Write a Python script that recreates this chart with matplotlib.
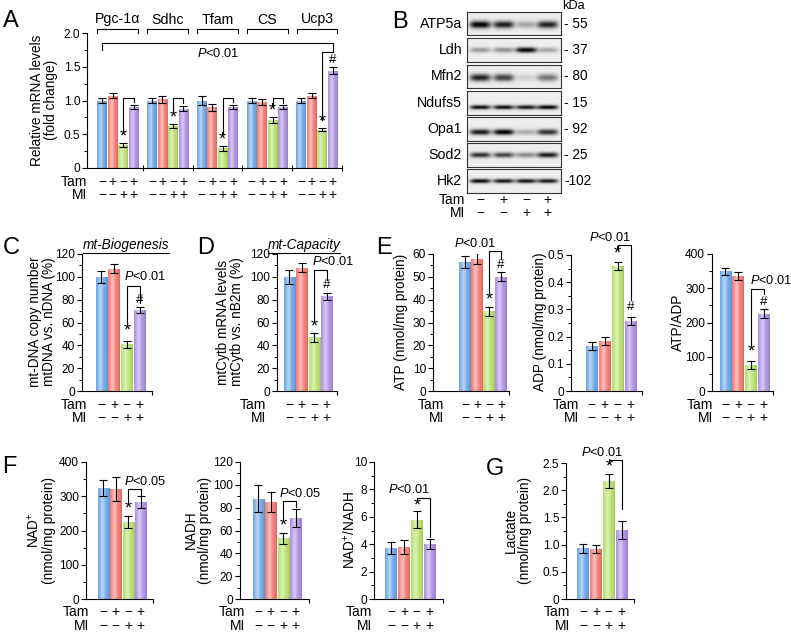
import numpy as np
import matplotlib
matplotlib.use("Agg")
import matplotlib.pyplot as plt
from matplotlib.colors import to_rgb
from matplotlib.ticker import AutoMinorLocator, FixedLocator
from matplotlib.transforms import blended_transform_factory
from matplotlib.lines import Line2D

plt.rcParams["font.family"] = ["Liberation Sans", "DejaVu Sans"]
plt.rcParams["mathtext.fontset"] = "custom"
plt.rcParams["mathtext.rm"] = "Liberation Sans"
plt.rcParams["mathtext.it"] = "Liberation Sans:italic"

# ---- data ----
bar_colors = ["#6aa6e6", "#f27a72", "#b6df6a", "#ad8fe3"]
tam_signs = ["−", "+", "−", "+"]
mi_signs = ["−", "−", "+", "+"]

genes = ["Pgc-1α", "Sdhc", "Tfam", "CS", "Ucp3"]
mrna_mean = [[1.00, 1.07, 0.34, 0.91],
             [1.00, 1.02, 0.62, 0.88],
             [1.00, 0.90, 0.29, 0.91],
             [1.00, 0.98, 0.71, 0.90],
             [1.00, 1.07, 0.57, 1.44]]
mrna_err = [[0.04, 0.04, 0.03, 0.03],
            [0.04, 0.05, 0.03, 0.04],
            [0.06, 0.05, 0.04, 0.03],
            [0.03, 0.04, 0.04, 0.03],
            [0.03, 0.04, 0.02, 0.05]]

proteins = ["ATP5a", "Ldh", "Mfn2", "Ndufs5", "Opa1", "Sod2", "Hk2"]
kda = ["55", "37", "80", "15", "92", "25", "102"]
band_level = [[1.00, 0.88, 0.30, 0.85],
              [0.35, 0.38, 1.00, 0.30],
              [0.85, 0.72, 0.12, 0.50],
              [0.95, 0.95, 0.90, 1.00],
              [0.90, 1.00, 0.28, 0.80],
              [0.80, 0.72, 0.42, 0.90],
              [0.95, 0.90, 0.90, 0.88]]

mtdna = [100, 107, 41, 71]
mtdna_err = [5, 4, 3, 3]
mtcytb = [100, 108, 47, 83]
mtcytb_err = [6, 4, 4, 3]
atp = [56.5, 58, 35, 50]
atp_err = [2.8, 2.3, 2.0, 2.0]
adp = [0.165, 0.185, 0.46, 0.258]
adp_err = [0.015, 0.015, 0.015, 0.015]
atp_adp = [350, 335, 75, 226]
atp_adp_err = [10, 12, 12, 12]
nad = [325, 322, 225, 283]
nad_err = [23, 35, 17, 17]
nadh = [88, 85, 53, 71]
nadh_err = [12, 9, 5, 8]
nad_ratio = [3.7, 3.8, 5.8, 4.0]
nad_ratio_err = [0.45, 0.5, 0.6, 0.35]
lactate = [0.93, 0.92, 2.17, 1.27]
lactate_err = [0.09, 0.08, 0.13, 0.17]

W, H = 791, 632
fig = plt.figure(figsize=(W / 100, H / 100), dpi=100)

TICK_FS = 8.6
LAB_FS = 9.8
ROW_FS = 10


def rect(x0, y0, x1, y1):
    return [x0 / W, 1 - y1 / H, (x1 - x0) / W, (y1 - y0) / H]


def fy(y):
    return 1 - y / H


def shade(base):
    t = np.linspace(0, 1, 40)
    w = 0.5 * np.exp(-((t - 0.38) / 0.22) ** 2)
    rgb = np.array(to_rgb(base))
    row = rgb[None, :] * (1 - w[:, None]) + w[:, None]
    row = row * (1 - 0.12 * np.exp(-((t - 1) / 0.1) ** 2))[:, None]
    return np.clip(row[None, :, :], 0, 1)


def draw_bars(ax, xs, vals, errs, width=0.92):
    for x, v, c in zip(xs, vals, bar_colors):
        b = ax.bar(x, v, width=width, color=c, edgecolor="none", zorder=1)[0]
        im = ax.imshow(shade(c), extent=(x - width / 2, x + width / 2, 0, v),
                       aspect="auto", interpolation="bilinear", zorder=2)
        im.set_clip_path(b)
    ax.errorbar(xs, vals, yerr=errs, fmt="none", ecolor="black",
                elinewidth=0.8, capsize=2.6, capthick=0.8, zorder=3)


def style(ax, ylim, yticks, ylabels, xlim, xticks):
    ax.set_xlim(xlim)
    ax.set_ylim(ylim)
    for s in ["top", "right"]:
        ax.spines[s].set_visible(False)
    for s in ["left", "bottom"]:
        ax.spines[s].set_linewidth(0.8)
    ax.set_yticks(yticks)
    ax.set_yticklabels(ylabels)
    ax.yaxis.set_minor_locator(AutoMinorLocator(2))
    ax.tick_params(axis="y", which="major", length=3.5, width=0.8, labelsize=TICK_FS, pad=1.5)
    ax.tick_params(axis="y", which="minor", length=2, width=0.7)
    ax.xaxis.set_major_locator(FixedLocator(xticks))
    ax.tick_params(axis="x", length=3, width=0.8, labelbottom=False, direction="out")


def bracket(ax, x1, y1, x2, y2, top):
    ax.add_line(Line2D([x1, x1, x2, x2], [y1, top, top, y2], color="black",
                       lw=0.8, clip_on=False))


def mark(ax, x, y, s, size=13):
    ax.text(x, y, s, ha="center", va="center", fontsize=size, clip_on=False)


def ptext(ax, x, y, s, ha="center"):
    ax.text(x, y, "$P$<" + s, ha=ha, va="center", fontsize=9.2, clip_on=False)


def sign_rows(ax, xs, y_tam, y_mi, label_x, tams=tam_signs, mis=mi_signs):
    tr = blended_transform_factory(ax.transData, fig.transFigure)
    for x, a, b in zip(xs, tams, mis):
        ax.text(x, fy(y_tam), a, transform=tr, ha="center", va="center", fontsize=ROW_FS)
        ax.text(x, fy(y_mi), b, transform=tr, ha="center", va="center", fontsize=ROW_FS)
    fig.text(label_x / W, fy(y_tam), "Tam", ha="right", va="center", fontsize=ROW_FS)
    fig.text(label_x / W, fy(y_mi), "MI", ha="right", va="center", fontsize=ROW_FS)


def ylab(x, y, s):
    fig.text(x / W, fy(y), s, rotation=90, ha="center", va="center",
             fontsize=LAB_FS, linespacing=1.0)


def letter(x, y, s):
    fig.text(x / W, fy(y), s, ha="center", va="center", fontsize=17)


# ---- panel A ----
axA = fig.add_axes(rect(87, 33, 342, 168))
pitch = 4.74
xA = []
for g in range(5):
    xs = [g * pitch + i for i in range(4)]
    xA.append(xs)
    draw_bars(axA, xs, mrna_mean[g], mrna_err[g])
bounds = [g * pitch + 3.87 for g in range(4)] + [22.84]
style(axA, (0, 2.0), [0, 0.5, 1.0, 1.5, 2.0], ["0", "0.5", "1.0", "1.5", "2.0"],
      (-1.45, 22.84), bounds)
axA.tick_params(axis="x", direction="inout", length=4)
for g in range(5):
    xs = xA[g]
    bracket(axA, xs[0] - 0.45, 2.0, xs[3] + 0.45, 2.0, 2.06)
    axA.text((xs[0] + xs[3]) / 2, 2.2, genes[g], ha="center", va="center",
             fontsize=10.2, clip_on=False)
    top_g = mrna_mean[g][2] + mrna_err[g][2]
    mark(axA, xs[2], top_g + 0.09, "*")
    if g < 4:
        bracket(axA, xs[2], top_g + 0.17, xs[3], mrna_mean[g][3] + mrna_err[g][3] + 0.04, 1.03)
bracket(axA, xA[4][2], mrna_mean[4][2] + 0.14, xA[4][3], 1.72, 1.72)
bracket(axA, xA[0][0], 1.75, xA[4][3], 1.72, 1.85)
mark(axA, xA[4][3], 1.6, "#", 9.5)
ptext(axA, 11.03, 1.70, "0.01")
sign_rows(axA, [x for xs in xA for x in xs], 182, 195, 87,
          tams=tam_signs * 5, mis=mi_signs * 5)
ylab(44, 100, "Relative mRNA levels\n(fold change)")
letter(11, 21, "A")

# ---- panel B ----
letter(400, 22, "B")
rows = [(12, 35), (38, 62), (65, 88), (91, 115), (117, 141), (143, 167), (169, 193)]
band_pos = [0.55, 0.5, 0.55, 0.68, 0.63, 0.5, 0.5]
band_sig = [0.16, 0.11, 0.16, 0.09, 0.12, 0.11, 0.09]
lane_frac = [0.14, 0.39, 0.63, 0.86]
bx0, bx1 = 467, 561
for r, (y0, y1) in enumerate(rows):
    ax = fig.add_axes(rect(bx0, y0, bx1, y1))
    yy, xx = np.mgrid[0:1:60j, 0:1:240j]
    img = np.full(yy.shape, 0.07)
    for lf, lev in zip(lane_frac, band_level[r]):
        hprof = np.exp(-((xx - lf) / 0.11) ** 4)
        vprof = np.exp(-((yy - band_pos[r]) / band_sig[r]) ** 2)
        img += lev * 0.95 * hprof * vprof
    ax.imshow(np.clip(img, 0, 1), cmap="gray_r", vmin=0, vmax=1, aspect="auto",
              extent=(0, 1, 1, 0), interpolation="bilinear")
    ax.set_xticks([])
    ax.set_yticks([])
    for s in ax.spines.values():
        s.set_linewidth(0.8)
        s.set_color("#333333")
    yc = (y0 + y1) / 2
    fig.text(462 / W, fy(yc), proteins[r], ha="right", va="center", fontsize=10.2)
    fig.text(564 / W, fy(yc), "- " + kda[r] if len(kda[r]) < 3 else "-" + kda[r],
             ha="left", va="center", fontsize=9.8)
fig.text(562 / W, fy(6), "kDa", ha="left", va="center", fontsize=9.2)
for lf, a, b in zip(lane_frac, tam_signs, mi_signs):
    xp = (bx0 + lf * (bx1 - bx0)) / W
    fig.text(xp, fy(200), a, ha="center", va="center", fontsize=ROW_FS)
    fig.text(xp, fy(213), b, ha="center", va="center", fontsize=ROW_FS)
fig.text(465 / W, fy(200), "Tam", ha="right", va="center", fontsize=ROW_FS)
fig.text(465 / W, fy(213), "MI", ha="right", va="center", fontsize=ROW_FS)

xs4 = [0, 1, 2, 3]


def int_ticks(arr):
    return [str(v) for v in arr]


# ---- panel C ----
axC = fig.add_axes(rect(82, 254, 152, 391))
draw_bars(axC, xs4, mtdna, mtdna_err)
style(axC, (0, 120), range(0, 121, 20), int_ticks(range(0, 121, 20)), (-1.52, 3.97), [3.97])
mark(axC, 2, 53, "*")
mark(axC, 3, 80, "#", 9.5)
bracket(axC, 2, 59, 3, 77, 92)
ptext(axC, 3.42, 100, "0.01")
sign_rows(axC, xs4, 405, 418, 87)
ylab(42, 322, "mt-DNA copy number\nmtDNA vs. nDNA (%)")
letter(11, 248, "C")
tC = fig.text(126 / W, fy(245), "mt-Biogenesis", style="italic", ha="center",
              va="center", fontsize=9.8)

# ---- panel D ----
axD = fig.add_axes(rect(277, 254, 337, 391))
draw_bars(axD, xs4, mtcytb, mtcytb_err)
style(axD, (0, 120), range(0, 121, 20), int_ticks(range(0, 121, 20)), (-0.98, 3.82), [3.82])
mark(axD, 2, 56, "*")
mark(axD, 3, 93, "#", 9.5)
bracket(axD, 2, 62, 3, 97, 106)
ptext(axD, 3.5, 113, "0.01")
sign_rows(axD, xs4, 405, 418, 266)
ylab(230, 322, "mtCytb mRNA levels\nmtCytb vs. nB2m (%)")
letter(206, 248, "D")
tD = fig.text(304 / W, fy(245), "mt-Capacity", style="italic", ha="center",
              va="center", fontsize=9.8)

# ---- panel E ----
axE1 = fig.add_axes(rect(433, 254, 509, 391))
draw_bars(axE1, xs4, atp, atp_err)
style(axE1, (0, 60), range(0, 61, 10), int_ticks(range(0, 61, 10)), (-2.67, 3.67), [3.67])
mark(axE1, 2, 40, "*")
mark(axE1, 3, 55, "#", 9.5)
bracket(axE1, 2, 44, 3, 57.8, 61.2)
ptext(axE1, 0.83, 64.8, "0.01")
sign_rows(axE1, xs4, 405, 418, 444)
ylab(401, 322, "ATP (nmol/mg protein)")
letter(384, 248, "E")

axE2 = fig.add_axes(rect(571, 255, 642, 391))
draw_bars(axE2, xs4, adp, adp_err)
style(axE2, (0, 0.5), [0, 0.1, 0.2, 0.3, 0.4, 0.5], ["0", "0.1", "0.2", "0.3", "0.4", "0.5"],
      (-1.58, 3.88), [3.88])
mark(axE2, 2, 0.505, "*")
mark(axE2, 3, 0.31, "#", 9.5)
bracket(axE2, 2, 0.523, 3, 0.335, 0.537)
ptext(axE2, 1.42, 0.5625, "0.01")
sign_rows(axE2, xs4, 405, 418, 579)
ylab(540, 322, "ADP (nmol/mg protein)")

axE3 = fig.add_axes(rect(712, 254, 773, 391))
draw_bars(axE3, xs4, atp_adp, atp_adp_err)
style(axE3, (0, 400), range(0, 401, 100), int_ticks(range(0, 401, 100)), (-1.05, 3.74), [3.74])
mark(axE3, 2, 114, "*")
mark(axE3, 3, 260, "#", 9.5)
bracket(axE3, 2, 135, 3, 283, 298)
ptext(axE3, 1.95, 324, "0.01", ha="left")
sign_rows(axE3, xs4, 405, 418, 713)
ylab(678, 322, "ATP/ADP")

# ---- panel F ----
axF1 = fig.add_axes(rect(86, 462, 153, 599))
draw_bars(axF1, xs4, nad, nad_err)
style(axF1, (0, 400), range(0, 401, 100), int_ticks(range(0, 401, 100)), (-1.38, 3.98), [3.98])
mark(axF1, 2, 262, "*")
bracket(axF1, 2, 278, 3, 305, 321)
ptext(axF1, 3.34, 342, "0.05")
sign_rows(axF1, xs4, 612, 626, 89)
ylab(41, 530, "NAD$^{+}$\n(nmol/mg protein)")
letter(9, 467, "F")

axF2 = fig.add_axes(rect(240, 462, 309, 599))
draw_bars(axF2, xs4, nadh, nadh_err)
style(axF2, (0, 120), range(0, 121, 20), int_ticks(range(0, 121, 20)), (-1.46, 4.06), [4.06])
mark(axF2, 2, 64, "*")
bracket(axF2, 2, 71, 3, 80.5, 86)
ptext(axF2, 3.34, 92.5, "0.05")
sign_rows(axF2, xs4, 612, 626, 245)
ylab(198, 530, "NADH\n(nmol/mg protein)")

axF3 = fig.add_axes(rect(374, 462, 443, 599))
draw_bars(axF3, xs4, nad_ratio, nad_ratio_err)
style(axF3, (0, 10), range(0, 11, 2), int_ticks(range(0, 11, 2)), (-1.36, 4.05), [4.05])
mark(axF3, 2, 6.8, "*")
bracket(axF3, 2, 7.15, 3, 4.5, 7.37)
ptext(axF3, 1.39, 7.96, "0.01")
sign_rows(axF3, xs4, 612, 626, 372)
ylab(350, 530, "NAD$^{+}$/NADH")

# ---- panel G ----
axG = fig.add_axes(rect(566, 463, 634, 599))
draw_bars(axG, xs4, lactate, lactate_err)
style(axG, (0, 2.5), [0, 0.5, 1.0, 1.5, 2.0, 2.5], ["0", "0.5", "1.0", "1.5", "2.0", "2.5"],
      (-1.36, 3.97), [3.97])
mark(axG, 2, 2.42, "*")
bracket(axG, 2, 2.5, 3, 1.65, 2.55)
ptext(axG, 1.46, 2.70, "0.01")
sign_rows(axG, xs4, 612, 626, 570)
ylab(518, 530, "Lactate\n(nmol/mg protein)")
letter(495, 469, "G")

# underline the italic titles
fig.canvas.draw()
r = fig.canvas.get_renderer()
for t in (tC, tD):
    bb = t.get_window_extent(r)
    fig.add_artist(Line2D([bb.x0 / W, bb.x1 / W], [(bb.y0 - 0.5) / H] * 2,
                          color="black", lw=0.8))

fig.savefig("out.png", dpi=100)
